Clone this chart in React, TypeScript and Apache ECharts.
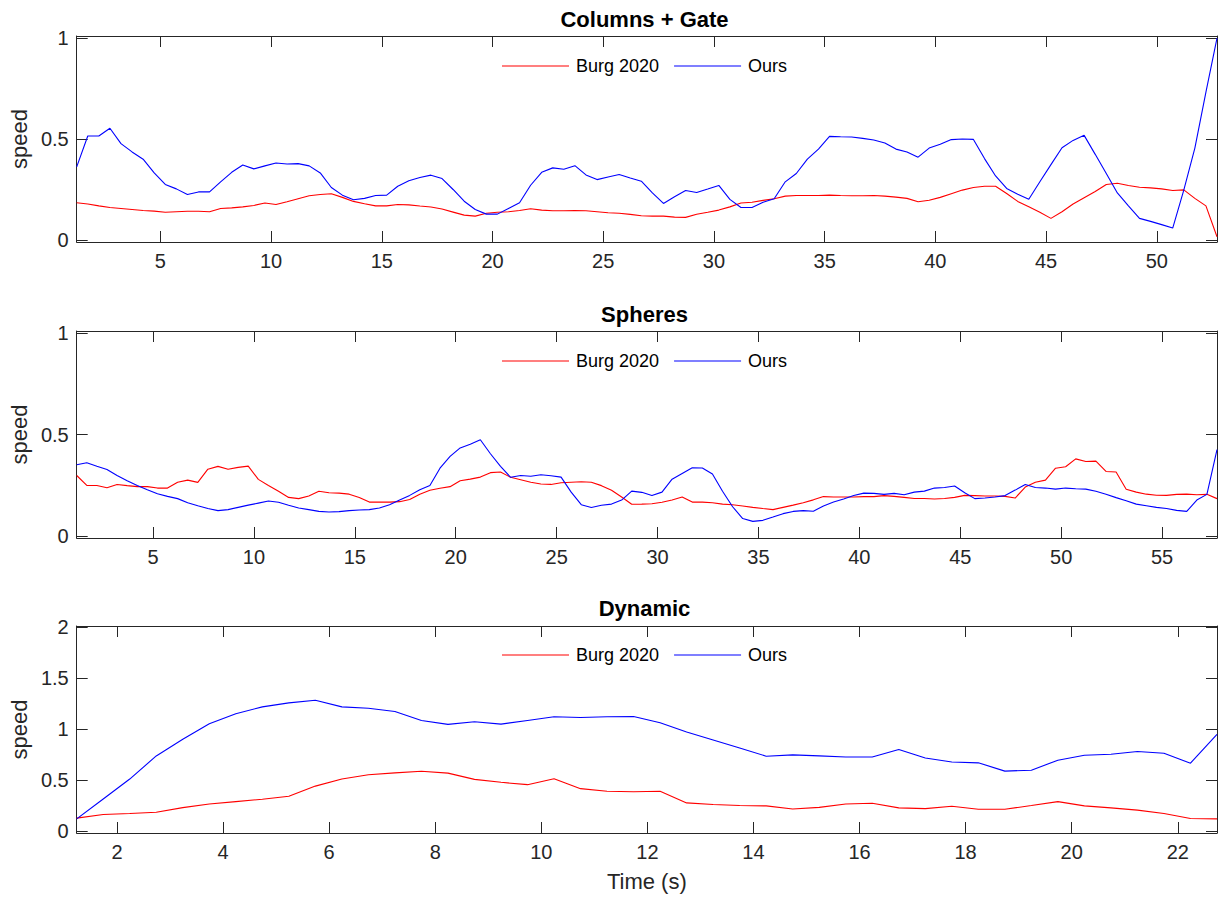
import React, { useEffect, useRef } from 'react';
import * as echarts from 'echarts';

const FONT = '"Liberation Sans", Arial, Helvetica, sans-serif';
const AX = '#262626';

const seriesNames = ['Burg 2020', 'Ours'];
const titles = ['Columns + Gate', 'Spheres', 'Dynamic'];
const timeStep = 0.5;
const colStart = 1.22;
const sphStart = 1.22;
const dynStart = 1.24;

const colXTicks = [5, 10, 15, 20, 25, 30, 35, 40, 45, 50];
const sphXTicks = [5, 10, 15, 20, 25, 30, 35, 40, 45, 50, 55];
const dynXTicks = [2, 4, 6, 8, 10, 12, 14, 16, 18, 20, 22];
const colYTicks = [0, 0.5, 1];
const sphYTicks = [0, 0.5, 1];
const dynYTicks = [0, 0.5, 1, 1.5, 2];

const colBurg = [
  0.184, 0.178, 0.169, 0.161, 0.156, 0.151, 0.146, 0.143, 0.137, 0.14, 0.142, 0.142, 0.14, 0.156, 0.159, 0.164,
  0.171, 0.183, 0.176, 0.189, 0.204, 0.219, 0.225, 0.229, 0.211, 0.191, 0.179, 0.169, 0.169, 0.176, 0.174, 0.168,
  0.163, 0.153, 0.138, 0.123, 0.118, 0.132, 0.137, 0.14, 0.146, 0.155, 0.148, 0.145, 0.145, 0.146, 0.145, 0.14,
  0.135, 0.132, 0.127, 0.12, 0.118, 0.118, 0.113, 0.112, 0.127, 0.137, 0.148, 0.164, 0.183, 0.187, 0.196, 0.204,
  0.217, 0.22, 0.22, 0.22, 0.222, 0.22, 0.219, 0.219, 0.22, 0.217, 0.212, 0.206, 0.189, 0.197, 0.211, 0.229,
  0.247, 0.26, 0.266, 0.266, 0.23, 0.191, 0.164, 0.137, 0.107, 0.14, 0.178, 0.209, 0.24, 0.275, 0.281, 0.27,
  0.261, 0.258, 0.253, 0.245, 0.248, 0.206, 0.169, 0.016,
];
const colOurs = [
  0.362, 0.515, 0.515, 0.553, 0.477, 0.436, 0.4, 0.332, 0.275, 0.253, 0.225, 0.238, 0.238, 0.288, 0.335, 0.371,
  0.352, 0.367, 0.381, 0.376, 0.378, 0.367, 0.332, 0.26, 0.222, 0.199, 0.206, 0.22, 0.222, 0.266, 0.293, 0.309,
  0.321, 0.304, 0.25, 0.192, 0.151, 0.128, 0.128, 0.156, 0.184, 0.271, 0.335, 0.357, 0.35, 0.368, 0.322, 0.299,
  0.312, 0.324, 0.307, 0.291, 0.233, 0.181, 0.214, 0.245, 0.235, 0.252, 0.27, 0.201, 0.161, 0.161, 0.187, 0.204,
  0.288, 0.329, 0.4, 0.45, 0.513, 0.511, 0.51, 0.503, 0.495, 0.48, 0.45, 0.436, 0.41, 0.455, 0.474, 0.497,
  0.5, 0.498, 0.403, 0.317, 0.255, 0.227, 0.202, 0.288, 0.373, 0.457, 0.493, 0.518, 0.424, 0.329, 0.233, 0.169,
  0.107, 0.092, 0.076, 0.059, 0.247, 0.455, 0.732, 1.0,
];

const sphBurg = [
  0.298, 0.249, 0.249, 0.238, 0.254, 0.248, 0.243, 0.243, 0.236, 0.236, 0.265, 0.275, 0.264, 0.329, 0.343, 0.329,
  0.338, 0.344, 0.279, 0.249, 0.22, 0.19, 0.184, 0.197, 0.22, 0.213, 0.211, 0.206, 0.19, 0.167, 0.167, 0.167,
  0.169, 0.18, 0.206, 0.225, 0.235, 0.243, 0.272, 0.28, 0.29, 0.312, 0.315, 0.289, 0.277, 0.265, 0.256, 0.254,
  0.262, 0.265, 0.267, 0.265, 0.248, 0.225, 0.192, 0.156, 0.157, 0.159, 0.166, 0.177, 0.192, 0.167, 0.167, 0.164,
  0.157, 0.154, 0.148, 0.141, 0.135, 0.13, 0.141, 0.152, 0.164, 0.178, 0.194, 0.192, 0.192, 0.192, 0.194, 0.194,
  0.199, 0.195, 0.19, 0.185, 0.185, 0.182, 0.185, 0.19, 0.2, 0.199, 0.197, 0.197, 0.195, 0.187, 0.241, 0.265,
  0.275, 0.334, 0.341, 0.38, 0.367, 0.369, 0.318, 0.315, 0.23, 0.216, 0.206, 0.201, 0.2, 0.205, 0.206, 0.203,
  0.205, 0.184,
];
const sphOurs = [
  0.351, 0.361, 0.344, 0.328, 0.298, 0.272, 0.249, 0.228, 0.208, 0.195, 0.184, 0.164, 0.149, 0.135, 0.125, 0.13,
  0.141, 0.152, 0.162, 0.172, 0.166, 0.151, 0.138, 0.13, 0.121, 0.118, 0.12, 0.125, 0.128, 0.13, 0.138, 0.154,
  0.177, 0.2, 0.228, 0.249, 0.334, 0.392, 0.434, 0.452, 0.474, 0.405, 0.343, 0.289, 0.298, 0.294, 0.302, 0.297,
  0.29, 0.216, 0.154, 0.14, 0.151, 0.157, 0.177, 0.221, 0.215, 0.199, 0.216, 0.28, 0.308, 0.336, 0.335, 0.305,
  0.22, 0.144, 0.086, 0.072, 0.077, 0.093, 0.11, 0.121, 0.125, 0.122, 0.148, 0.167, 0.182, 0.199, 0.211, 0.21,
  0.205, 0.21, 0.203, 0.216, 0.221, 0.236, 0.239, 0.246, 0.213, 0.184, 0.187, 0.192, 0.199, 0.226, 0.254, 0.239,
  0.236, 0.231, 0.236, 0.233, 0.231, 0.22, 0.206, 0.189, 0.174, 0.157, 0.149, 0.141, 0.135, 0.126, 0.121, 0.177,
  0.205, 0.425,
];

const dynBurg = [
  0.126, 0.161, 0.171, 0.184, 0.229, 0.265, 0.288, 0.311, 0.34, 0.44, 0.509, 0.551, 0.57, 0.585, 0.567, 0.506,
  0.477, 0.454, 0.512, 0.415, 0.389, 0.385, 0.389, 0.275, 0.259, 0.249, 0.246, 0.216, 0.231, 0.265, 0.272, 0.226,
  0.219, 0.242, 0.213, 0.213, 0.249, 0.288, 0.246, 0.226, 0.204, 0.171, 0.122, 0.119,
];
const dynOurs = [
  0.119, 0.314, 0.509, 0.736, 0.899, 1.052, 1.149, 1.217, 1.256, 1.282, 1.217, 1.204, 1.172, 1.084, 1.045, 1.071,
  1.048, 1.084, 1.12, 1.113, 1.12, 1.123, 1.061, 0.97, 0.892, 0.814, 0.733, 0.746, 0.736, 0.726, 0.726, 0.798,
  0.716, 0.677, 0.668, 0.587, 0.596, 0.694, 0.743, 0.752, 0.779, 0.762, 0.665, 0.947,
];

const panels = [
  { title: titles[0], burg: colBurg, ours: colOurs, start: colStart, xTicks: colXTicks, yTicks: colYTicks, yMin: -0.01, yMax: 1.01, top: 36, height: 206, titleTop: 8, legendTop: 57 },
  { title: titles[1], burg: sphBurg, ours: sphOurs, start: sphStart, xTicks: sphXTicks, yTicks: sphYTicks, yMin: -0.01, yMax: 1.01, top: 331, height: 207, titleTop: 303, legendTop: 352 },
  { title: titles[2], burg: dynBurg, ours: dynOurs, start: dynStart, xTicks: dynXTicks, yTicks: dynYTicks, yMin: -0.02, yMax: 2.01, top: 626, height: 207, titleTop: 597, legendTop: 646 },
];

const LEFT = 72;
const WIDTH = 1145;

function buildOption() {
  const grid: any[] = [];
  const xAxis: any[] = [];
  const yAxis: any[] = [];
  const title: any[] = [];
  const legend: any[] = [];
  const series: any[] = [];
  const tickStyle = { color: AX, width: 1 };
  const labelStyle = { color: AX, fontSize: 20, fontFamily: FONT };

  panels.forEach((p, k) => {
    const n = p.burg.length;
    const xMax = p.start + timeStep * (n - 1);
    grid.push({ left: LEFT, top: p.top, width: WIDTH, height: p.height });
    const xBase = {
      gridIndex: k, type: 'value', min: p.start, max: xMax,
      axisLine: { show: true, onZero: false, lineStyle: tickStyle },
      splitLine: { show: false },
    };
    xAxis.push({
      ...xBase, position: 'bottom',
      axisTick: { show: true, inside: true, length: 11, customValues: p.xTicks, lineStyle: tickStyle },
      axisLabel: { show: true, customValues: p.xTicks, margin: 9, ...labelStyle },
      ...(k === 2 ? { name: 'Time (s)', nameLocation: 'middle', nameGap: 37, nameTextStyle: { color: AX, fontSize: 22, fontFamily: FONT } } : {}),
    });
    xAxis.push({
      ...xBase, position: 'top',
      axisTick: { show: true, inside: true, length: 11, customValues: p.xTicks, lineStyle: tickStyle },
      axisLabel: { show: false },
    });
    const yBase = {
      gridIndex: k, type: 'value', min: p.yMin, max: p.yMax,
      axisLine: { show: true, onZero: false, lineStyle: tickStyle },
      splitLine: { show: false },
    };
    yAxis.push({
      ...yBase, position: 'left',
      axisTick: { show: true, inside: true, length: 11, customValues: p.yTicks, lineStyle: tickStyle },
      axisLabel: { show: true, customValues: p.yTicks, margin: 8, ...labelStyle },
      name: 'speed', nameLocation: 'middle', nameGap: 39, nameRotate: 90,
      nameTextStyle: { color: AX, fontSize: 22, fontFamily: FONT },
    });
    yAxis.push({
      ...yBase, position: 'right',
      axisTick: { show: true, inside: true, length: 11, customValues: p.yTicks, lineStyle: tickStyle },
      axisLabel: { show: false },
    });
    title.push({
      text: p.title, left: LEFT + WIDTH / 2, top: p.titleTop, textAlign: 'center', padding: 0,
      textStyle: { fontSize: 22, fontWeight: 'bold', color: '#000', fontFamily: FONT },
    });
    legend.push({
      left: 502, top: p.legendTop, orient: 'horizontal', padding: 0,
      icon: 'rect', itemWidth: 67, itemHeight: 1.2, itemGap: 15, selectedMode: false,
      textStyle: { fontSize: 18, color: '#000', fontFamily: FONT, padding: [0, 0, 0, 2] },
      data: seriesNames,
    });
    const mk = (vals: number[]) => vals.map((v, i) => [p.start + timeStep * i, v]);
    series.push({
      name: seriesNames[0], type: 'line', xAxisIndex: 2 * k, yAxisIndex: 2 * k, data: mk(p.burg),
      symbol: 'none', lineStyle: { color: '#ff0000', width: 1.1 }, itemStyle: { color: '#ff0000' }, silent: true,
    });
    series.push({
      name: seriesNames[1], type: 'line', xAxisIndex: 2 * k, yAxisIndex: 2 * k, data: mk(p.ours),
      symbol: 'none', lineStyle: { color: '#0000ff', width: 1.1 }, itemStyle: { color: '#0000ff' }, silent: true,
    });
  });

  return { animation: false, backgroundColor: '#ffffff', grid, xAxis, yAxis, title, legend, series };
}

export default function App() {
  const ref = useRef<HTMLDivElement>(null);
  useEffect(() => {
    if (!ref.current) return;
    const chart = echarts.init(ref.current, undefined, { renderer: 'svg' });
    chart.setOption(buildOption() as any);
    return () => chart.dispose();
  }, []);
  return <div ref={ref} style={{ position: 'absolute', left: 0, top: 0, width: 1222, height: 900 }} />;
}
